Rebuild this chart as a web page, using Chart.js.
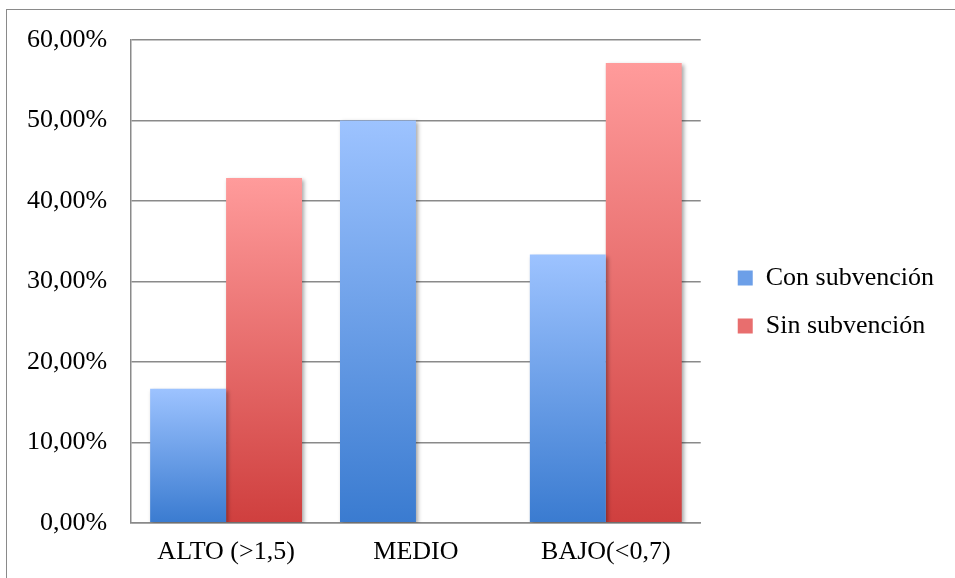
<!DOCTYPE html>
<html>
<head>
<meta charset="utf-8">
<script src="https://cdn.jsdelivr.net/npm/chart.js@4/dist/chart.umd.min.js"></script>
<style>
  html, body { margin: 0; padding: 0; background: #fff; overflow: hidden; }
  #frame {
    position: absolute; left: 0; top: 0; width: 955px; height: 578px;
  }
  #border {
    position: absolute; left: 6px; top: 9px; width: 1000px; height: 700px;
    border: 1.5px solid #8a8a8a; box-sizing: border-box; pointer-events: none;
  }
</style>
</head>
<body>
<div id="frame">
  <canvas id="depthChart" width="955" height="578"></canvas>
  <div id="border"></div>
</div>
<script>
// Chart data
const categories = ['ALTO (>1,5)', 'MEDIO', 'BAJO(<0,7)'];
const conSubvencion = [16.67, 50.0, 33.33];
const sinSubvencion = [42.86, 0, 57.14];
const yTicks = [0, 10, 20, 30, 40, 50, 60];

const FONT = "'Liberation Serif', 'Times New Roman', serif";
Chart.defaults.font.family = FONT;
Chart.defaults.color = '#000';

// vertical gradient per bar, light at the top, dark at the base
function barGradient(context, light, dark) {
  const chart = context.chart;
  const y = chart.scales && chart.scales.y;
  if (!y || context.type !== 'data' || context.raw == null) return dark;
  const yTop = y.getPixelForValue(context.raw);
  const yBase = y.getPixelForValue(0);
  if (!isFinite(yTop) || yTop === yBase) return dark;
  const g = chart.ctx.createLinearGradient(0, yTop, 0, yBase);
  g.addColorStop(0, light);
  g.addColorStop(1, dark);
  return g;
}

// soft drop shadow behind the bars
const barShadow = {
  id: 'barShadow',
  beforeDatasetsDraw(chart) {
    const ctx = chart.ctx;
    ctx.save();
    ctx.shadowColor = 'rgba(0,0,0,0.35)';
    ctx.shadowBlur = 4;
    ctx.shadowOffsetX = 2;
    ctx.shadowOffsetY = 2;
  },
  afterDatasetsDraw(chart) {
    chart.ctx.restore();
  }
};

// nudge the legend block to where the original sits
const legendShift = {
  id: 'legendShift',
  afterLayout(chart) {
    const lg = chart.legend;
    if (!lg) return;
    lg.left += 15; lg.right += 15;
    lg.top -= 5; lg.bottom -= 5;
  }
};

const chart = new Chart(document.getElementById('depthChart'), {
  type: 'bar',
  data: {
    labels: categories,
    datasets: [
      {
        label: 'Con subvención',
        data: conSubvencion,
        backgroundColor: (c) => barGradient(c, '#9dc3ff', '#3a7bd0'),
        borderWidth: 0
      },
      {
        label: 'Sin subvención',
        data: sinSubvencion,
        backgroundColor: (c) => barGradient(c, '#ff9b9b', '#cf3f3e'),
        borderWidth: 0
      }
    ]
  },
  options: {
    responsive: false,
    animation: false,
    devicePixelRatio: 1,
    layout: {
      padding: { left: 3, right: 26, top: 40, bottom: 4 }
    },
    datasets: {
      bar: {
        categoryPercentage: 0.8,
        barPercentage: 1.0
      }
    },
    plugins: {
      tooltip: { enabled: false },
      legend: {
        display: true,
        position: 'right',
        align: 'center',
        labels: {
          color: '#000',
          font: { family: FONT, size: 26 },
          boxWidth: 15,
          boxHeight: 15,
          padding: 22,
          generateLabels: (chart) => chart.data.datasets.map((ds, i) => ({
            text: ds.label,
            fillStyle: i === 0 ? '#6c9fe8' : '#e86e6e',
            strokeStyle: 'rgba(0,0,0,0)',
            lineWidth: 0,
            hidden: false,
            datasetIndex: i
          }))
        }
      }
    },
    scales: {
      x: {
        grid: { display: false },
        border: { display: true, color: '#8a8a8a', width: 1.5 },
        ticks: {
          color: '#000',
          font: { family: FONT, size: 26 },
          padding: 6,
          maxRotation: 0
        }
      },
      y: {
        min: yTicks[0],
        max: yTicks[yTicks.length - 1],
        afterBuildTicks: (axis) => {
          axis.ticks = yTicks.map(v => ({ value: v }));
        },
        grid: {
          color: '#8a8a8a',
          lineWidth: 1.5,
          drawTicks: false
        },
        border: { display: true, color: '#8a8a8a', width: 1.5 },
        ticks: {
          color: '#000',
          font: { family: FONT, size: 26 },
          padding: 24,
          callback: (v) => v.toFixed(2).replace('.', ',') + '%'
        }
      }
    }
  },
  plugins: [barShadow, legendShift]
});
</script>
</body>
</html>
